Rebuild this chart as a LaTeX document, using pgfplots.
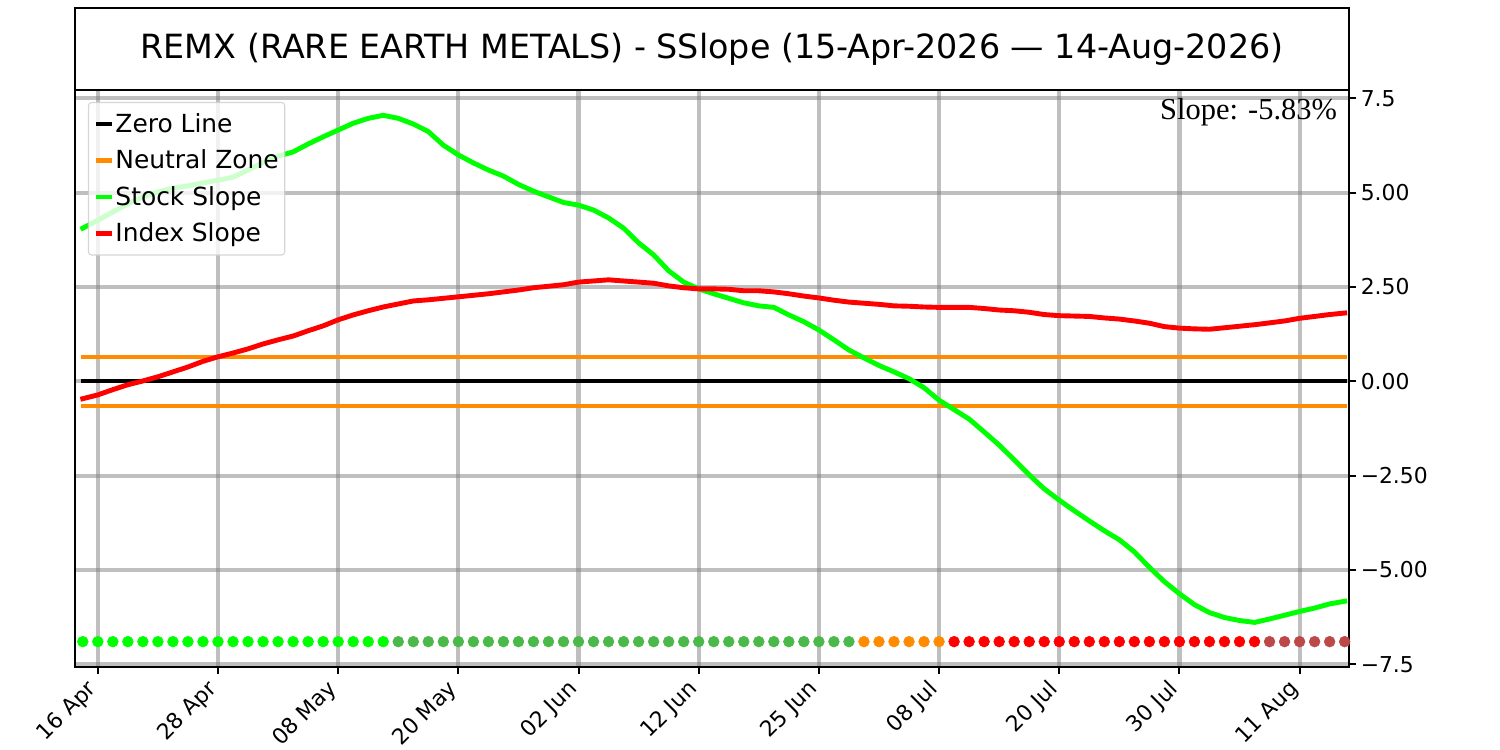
\documentclass[border=0pt]{standalone}
\usepackage{fontspec}
\setmainfont{DejaVu Sans}
\newfontfamily\timesfont{Liberation Serif}
\usepackage{pgfplots}
\pgfplotsset{compat=1.18}
\definecolor{cgreen}{RGB}{0,255,0}
\definecolor{cred}{RGB}{255,0,0}
\definecolor{corange}{RGB}{255,140,0}
\definecolor{cmidgreen}{RGB}{74,185,74}
\definecolor{cdarkred}{RGB}{188,72,72}
\pgfplotstableread{
x y
0 4.06
1 4.27
2 4.49
3 4.70
4 4.89
5 5.02
6 5.12
7 5.18
8 5.26
9 5.33
10 5.41
11 5.60
12 5.80
13 5.97
14 6.08
15 6.29
16 6.48
17 6.66
18 6.84
19 6.97
20 7.05
21 6.97
22 6.82
23 6.62
24 6.26
25 6.00
26 5.79
27 5.60
28 5.44
29 5.22
30 5.04
31 4.89
32 4.74
33 4.67
34 4.54
35 4.33
36 4.06
37 3.67
38 3.35
39 2.93
40 2.63
41 2.45
42 2.32
43 2.20
44 2.08
45 2.00
46 1.96
47 1.76
48 1.58
49 1.36
50 1.10
51 0.83
52 0.62
53 0.42
54 0.25
55 0.07
56 -0.17
57 -0.50
58 -0.75
59 -1.00
60 -1.34
61 -1.69
62 -2.08
63 -2.48
64 -2.85
65 -3.15
66 -3.43
67 -3.70
68 -3.96
69 -4.20
70 -4.52
71 -4.93
72 -5.31
73 -5.63
74 -5.92
75 -6.13
76 -6.26
77 -6.34
78 -6.39
79 -6.30
80 -6.20
81 -6.10
82 -6.01
83 -5.90
84 -5.83
}\stock
\pgfplotstableread{
x y
0 -0.46
1 -0.36
2 -0.22
3 -0.09
4 0.01
5 0.12
6 0.25
7 0.38
8 0.53
9 0.65
10 0.75
11 0.86
12 0.99
13 1.10
14 1.20
15 1.34
16 1.47
17 1.63
18 1.76
19 1.87
20 1.97
21 2.05
22 2.13
23 2.16
24 2.20
25 2.24
26 2.28
27 2.32
28 2.37
29 2.42
30 2.48
31 2.52
32 2.56
33 2.63
34 2.66
35 2.69
36 2.66
37 2.63
38 2.60
39 2.53
40 2.48
41 2.45
42 2.45
43 2.44
44 2.40
45 2.40
46 2.37
47 2.32
48 2.26
49 2.21
50 2.15
51 2.10
52 2.07
53 2.04
54 2.00
55 1.99
56 1.97
57 1.96
58 1.96
59 1.96
60 1.93
61 1.89
62 1.87
63 1.83
64 1.77
65 1.74
66 1.73
67 1.72
68 1.68
69 1.65
70 1.60
71 1.54
72 1.45
73 1.41
74 1.39
75 1.38
76 1.42
77 1.46
78 1.50
79 1.55
80 1.60
81 1.67
82 1.72
83 1.77
84 1.81
}\index
\begin{document}
\begin{tikzpicture}[x=1in,y=1in]
\useasboundingbox (-0.75,-0.827) rectangle (14.25,6.673);
\begin{axis}[
  at={(0,0)}, anchor=south west, scale only axis,
  width=12.743in, height=5.776in,
  xmin=-0.52, xmax=84.31, ymin=-7.58, ymax=7.73,
  axis line style={line width=1.4pt},
  xtick={1,9,17,25,33,41,49,57,65,73,81},
  xticklabels={16 Apr,28 Apr,08 May,20 May,02 Jun,12 Jun,25 Jun,08 Jul,20 Jul,30 Jul,11 Aug},
  ytick={-7.5,-5,-2.5,0,2.5,5,7.5},
  yticklabels={−7.5,−5.00,−2.50,0.00,2.50,5.00,7.5},
  xtick pos=bottom, ytick pos=right, yticklabel pos=right,
  tick align=outside,
  major tick length=0.07in,
  tick style={line width=1.4pt, black},
  grid=major,
  major grid style={line width=0.042in, black!50, opacity=0.5},
  tick label style={font=\fontsize{15.8}{18}\selectfont},
  xticklabel style={rotate=45, anchor=north east, inner sep=1pt, xshift=-0.099in, yshift=0.071in},
  yticklabel style={anchor=west, inner sep=1pt, xshift=2pt},
  legend style={at={(0.0102,0.9787)}, anchor=north west, draw=black!20, line width=0.8pt,
    fill=white, fill opacity=0.8, draw opacity=0.8, text opacity=1,
    rounded corners=0.03in, font=\fontsize{18}{20}\selectfont,
    inner xsep=0.05in, inner ysep=0.1in, row sep=0.135in,
    nodes={inner sep=0.01in}},
  legend cell align=left,
  legend image code/.code={\draw[#1, line cap=butt, opacity=1, draw opacity=1] (0in,0in) -- (0.16in,0in);},
]
\addplot[black, line width=0.043in, line cap=rect] coordinates {(0,0) (84,0)};
\addlegendentry{Zero Line}
\addplot[corange, line width=0.045in, line cap=rect] coordinates {(0,0.65) (84,0.65)};
\addlegendentry{Neutral Zone}
\addplot[corange, line width=0.045in, line cap=rect, forget plot] coordinates {(0,-0.65) (84,-0.65)};
\addplot[cgreen, line width=0.049in, line cap=rect, line join=round] table[x=x,y=y] {\stock};
\addlegendentry{Stock Slope}
\addplot[cred, line width=0.049in, line cap=rect, line join=round] table[x=x,y=y] {\index};
\addlegendentry{Index Slope}
\addplot[only marks, mark=*, mark size=3.9pt, cgreen, mark options={draw=none}, forget plot] coordinates {
(0,-6.9)(1,-6.9)(2,-6.9)(3,-6.9)(4,-6.9)(5,-6.9)(6,-6.9)(7,-6.9)(8,-6.9)(9,-6.9)(10,-6.9)
(11,-6.9)(12,-6.9)(13,-6.9)(14,-6.9)(15,-6.9)(16,-6.9)(17,-6.9)(18,-6.9)(19,-6.9)(20,-6.9)};
\addplot[only marks, mark=*, mark size=3.9pt, cmidgreen, mark options={draw=none}, forget plot] coordinates {
(21,-6.9)(22,-6.9)(23,-6.9)(24,-6.9)(25,-6.9)(26,-6.9)(27,-6.9)(28,-6.9)(29,-6.9)(30,-6.9)
(31,-6.9)(32,-6.9)(33,-6.9)(34,-6.9)(35,-6.9)(36,-6.9)(37,-6.9)(38,-6.9)(39,-6.9)(40,-6.9)
(41,-6.9)(42,-6.9)(43,-6.9)(44,-6.9)(45,-6.9)(46,-6.9)(47,-6.9)(48,-6.9)(49,-6.9)(50,-6.9)(51,-6.9)};
\addplot[only marks, mark=*, mark size=3.9pt, corange, mark options={draw=none}, forget plot] coordinates {
(52,-6.9)(53,-6.9)(54,-6.9)(55,-6.9)(56,-6.9)(57,-6.9)};
\addplot[only marks, mark=*, mark size=3.9pt, cred, mark options={draw=none}, forget plot] coordinates {
(58,-6.9)(59,-6.9)(60,-6.9)(61,-6.9)(62,-6.9)(63,-6.9)(64,-6.9)(65,-6.9)(66,-6.9)(67,-6.9)
(68,-6.9)(69,-6.9)(70,-6.9)(71,-6.9)(72,-6.9)(73,-6.9)(74,-6.9)(75,-6.9)(76,-6.9)(77,-6.9)(78,-6.9)};
\addplot[only marks, mark=*, mark size=3.9pt, cdarkred, mark options={draw=none}, forget plot] coordinates {
(79,-6.9)(80,-6.9)(81,-6.9)(82,-6.9)(83,-6.9)(84,-6.9)};
\node[anchor=north east, inner sep=0pt, font=\timesfont\fontsize{22}{24}\selectfont] at (rel axis cs:0.9905,0.986) {Slope: -5.83\%};
\end{axis}
\draw[line width=1.4pt] (0,5.776) rectangle (12.743,6.59);
\node[font=\fontsize{24.1}{28}\selectfont] at (6.3715,6.183) {REMX (RARE EARTH METALS) - SSlope (15-Apr-2026 — 14-Aug-2026)};
\end{tikzpicture}
\end{document}
